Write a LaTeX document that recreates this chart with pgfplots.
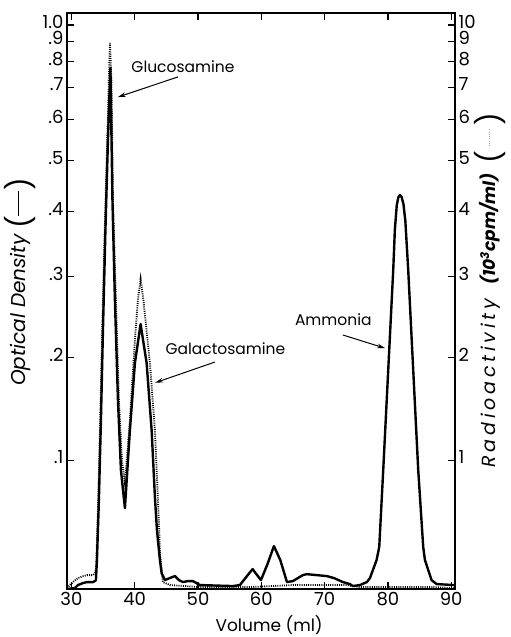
\documentclass[border=0pt]{standalone}
\usepackage{pgfplots}
\pgfplotsset{compat=1.18}
\usepackage{fontspec}
\setmainfont{Poppins}
\usetikzlibrary{arrows.meta,calc}

% optical density (solid)
\pgfplotstableread{
V OD
29.30 0.0000
30.55 0.0007
31.03 0.0028
31.82 0.0042
32.45 0.0049
33.40 0.0049
33.71 0.0056
33.87 0.0063
34.03 0.0206
34.34 0.0665
34.66 0.1365
34.98 0.2316
35.37 0.3694
35.77 0.5474
36.16 0.7730
36.48 0.4210
36.87 0.2685
37.35 0.1559
37.82 0.0915
38.45 0.0601
39.24 0.1271
40.03 0.1943
40.93 0.2387
41.88 0.1943
42.67 0.1271
43.19 0.0690
43.51 0.0430
43.98 0.0206
44.25 0.0112
44.77 0.0063
45.50 0.0077
46.35 0.0091
47.00 0.0063
47.61 0.0049
48.40 0.0056
49.19 0.0056
50.30 0.0028
55.51 0.0021
56.62 0.0028
57.60 0.0084
58.62 0.0141
59.94 0.0063
61.00 0.0180
61.99 0.0309
63.00 0.0206
64.05 0.0049
65.00 0.0056
66.56 0.0098
67.20 0.0105
70.36 0.0091
71.50 0.0077
72.89 0.0049
73.99 0.0035
74.47 0.0021
75.58 0.0028
76.68 0.0049
77.16 0.0077
78.21 0.0206
78.63 0.0301
79.26 0.0915
80.05 0.1867
80.84 0.3089
81.10 0.3700
81.40 0.4120
81.65 0.4260
81.90 0.4303
82.15 0.4270
82.45 0.4140
82.75 0.3850
83.21 0.3089
84.00 0.1867
84.79 0.0915
85.58 0.0301
85.85 0.0206
86.90 0.0063
87.69 0.0035
90.43 0.0028
}\odtable

% radioactivity, 10^3 cpm/ml (dotted)
\pgfplotstableread{
V R
29.30 0.007
29.76 0.030
30.08 0.042
30.55 0.060
31.03 0.077
31.82 0.090
32.45 0.098
33.40 0.098
33.71 0.110
33.87 0.140
33.95 0.206
34.23 0.665
34.55 1.365
34.87 2.316
35.26 3.694
35.66 5.474
35.92 7.260
36.08 8.900
36.32 7.260
36.56 4.210
37.03 2.685
37.50 1.559
37.98 1.000
38.45 0.805
39.24 1.365
40.03 2.200
40.50 2.685
40.93 2.964
41.37 2.685
42.40 1.943
43.19 1.271
43.87 0.430
43.98 0.257
44.45 0.049
45.56 0.028
50.30 0.014
58.20 0.014
65.00 0.028
73.50 0.028
75.58 0.014
87.10 0.014
90.43 0.007
}\radtable

\newcommand{\bigparen}[1]{\raisebox{-0.3em}{\fontsize{28}{28}\selectfont\mdseries\upshape#1}}

\pgfplotsset{
  common/.style={
    scale only axis, width=388pt, height=576pt,
    xmin=29.3, xmax=90.6,
    tick align=inside, major tick length=7pt,
    tick style={line width=1.2pt, black},
    axis line style={line width=1.7pt},
    ticklabel style={font=\fontsize{18}{20}\selectfont},
    /pgf/number format/assume math mode=true,
  }
}

\begin{document}
\begin{tikzpicture}
\begin{axis}[common, name=ax,
    ymin=0, ymax=1.092,
    y coord trafo/.code={\pgfmathparse{1-10^(-#1)}},
    xtick={30,40,...,90}, xtick pos=bottom,
    ytick={0.1,0.2,0.3,0.4,0.5,0.6,0.7,0.8,0.9,1.0},
    yticklabels={.1,.2,.3,.4,.5,.6,.7,.8,.9,1.0},
    yticklabel style={text height=0.72em, text depth=0pt, inner ysep=1pt},
    ytick pos=left,
    xlabel={Volume (ml)},
    xlabel style={font=\fontsize{17}{19}\selectfont, at={(rel axis cs:0.521,-0.063)}, anchor=center},
    ylabel={{\fontsize{20}{22}\selectfont\itshape Optical Density}\,\,\bigparen{(}\rule[0.32em]{1.4em}{1.4pt}\bigparen{)}},
    ylabel style={font=\fontsize{18}{20}\selectfont, at={(rel axis cs:-0.121,0.533)}, anchor=center},
  ]
  \addplot[black, line width=2.4pt, line join=round] table[x=V, y=OD] {\odtable};

  \node[anchor=west, font=\fontsize{15.5}{17}\selectfont] at (rel axis cs:0.157,0.906) {Glucosamine};
  \draw[-{Stealth[length=8pt,width=4.5pt]}, line width=1pt] (rel axis cs:0.286,0.889) -- (rel axis cs:0.131,0.854);
  \node[anchor=west, font=\fontsize{15.5}{17}\selectfont] at (rel axis cs:0.245,0.418) {Galactosamine};
  \draw[-{Stealth[length=8pt,width=4.5pt]}, line width=1pt] (rel axis cs:0.381,0.394) -- (rel axis cs:0.227,0.358);
  \node[anchor=east, font=\fontsize{15.5}{17}\selectfont] at (rel axis cs:0.794,0.467) {Ammonia};
  \draw[-{Stealth[length=8pt,width=4.5pt]}, line width=1pt] (rel axis cs:0.711,0.441) -- (rel axis cs:0.820,0.418);
\end{axis}

\begin{axis}[common,
    ymin=0, ymax=10.92,
    y coord trafo/.code={\pgfmathparse{1-10^(-#1/10)}},
    axis x line*=top,
    xtick={30,40,...,90}, xticklabels={},
    axis y line*=right,
    ytick={1,2,3,4,5,6,7,8,9,10},
    yticklabels={1,2,3,4,5,6,7,8,9,10},
    yticklabel style={text height=0.72em, text depth=0pt, inner ysep=1pt},
    ylabel={{\fontsize{19}{21}\selectfont\addfontfeatures{LetterSpace=20}\itshape Radioactivity}\;\; {\bfseries\itshape(10\textsuperscript{3}cpm/ml)}\;\;\bigparen{(}\makebox[1.5em]{\raisebox{0.32em}{\fontsize{6}{6}\selectfont.\,.\,.\,.\,.\,.\,.\,.}}\bigparen{)}},
    ylabel style={font=\fontsize{17}{19}\selectfont, at={(rel axis cs:1.09,0.519)}, anchor=center},
  ]
  \addplot[black, line width=1.8pt, dash pattern=on 1pt off 1.2pt] table[x=V, y=R] {\radtable};
\end{axis}
\pgfresetboundingbox
\path ($(ax.south west)+(-67pt,-48pt)$) rectangle ($(ax.north east)+(56pt,13pt)$);
\end{tikzpicture}
\end{document}
